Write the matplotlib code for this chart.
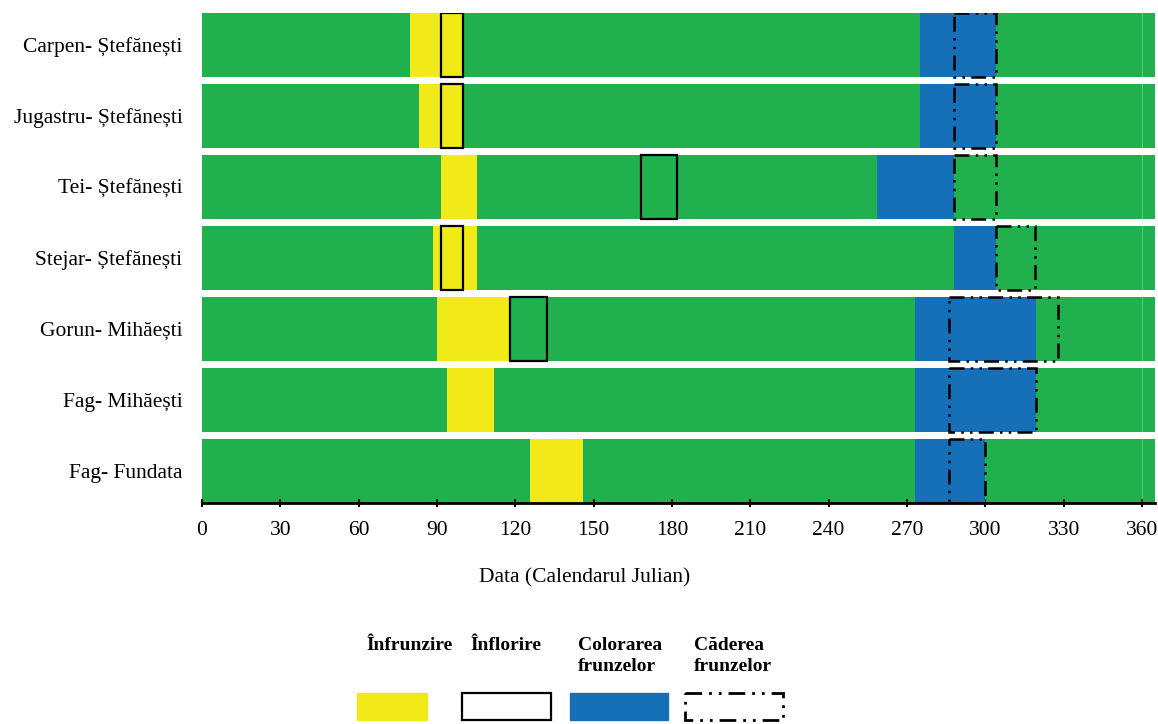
import matplotlib.pyplot as plt
from matplotlib.patches import Rectangle

plt.rcParams['font.family'] = ['Liberation Serif', 'DejaVu Serif']

species = ['Carpen- Ștefănești', 'Jugastru- Ștefănești', 'Tei- Ștefănești',
           'Stejar- Ștefănești', 'Gorun- Mihăești', 'Fag- Mihăești', 'Fag- Fundata']
leaf_start = [79.5, 83, 91.5, 88.5, 90, 94, 125.5]
leaf_end = [100, 100, 105.5, 105.5, 118, 112, 146]
flower_start = [91.5, 91.5, 168, 91.5, 118, None, None]
flower_end = [100, 100, 182, 100, 132, None, None]
color_start = [275, 275, 258.5, 288, 273, 273, 273]
color_end = [304, 304, 288, 304, 319.5, 319.5, 300]
fall_start = [288, 288, 288, 304, 286, 286, 286]
fall_end = [304, 304, 304, 319, 328, 319.5, 300]
year_len = 365

green = '#21b04e'
yellow = '#f2e918'
blue = '#1570b8'
falldash = (0, (6, 2.5, 1, 2.5, 1, 2.5))

W, H = 1158, 724
fig = plt.figure(figsize=(W / 100, H / 100), dpi=100)
ax = fig.add_axes([202 / W, 1 - 503 / H, (1155 - 202) / W, (503 - 13) / H])

y = list(range(len(species)))
h = 0.9
ax.barh(y, year_len, height=h, color=green, zorder=1)
ax.barh(y, [e - s for s, e in zip(leaf_start, leaf_end)], left=leaf_start,
        height=h, color=yellow, zorder=2)
ax.barh(y, [e - s for s, e in zip(color_start, color_end)], left=color_start,
        height=h, color=blue, zorder=2)
for i in y:
    if flower_start[i] is not None:
        ax.barh(i, flower_end[i] - flower_start[i], left=flower_start[i], height=h,
                fill=False, edgecolor='black', linewidth=1.6, zorder=3)
    ax.barh(i, fall_end[i] - fall_start[i], left=fall_start[i], height=h,
            fill=False, edgecolor='black', linewidth=1.8, linestyle=falldash, zorder=4)
ax.axvline(360, color='white', alpha=0.25, lw=0.8, zorder=2.5)

ax.set_xlim(0, year_len)
ax.set_ylim(len(species) - 0.55, -0.45)
ax.set_yticks(y)
ax.set_yticklabels(species, fontsize=15.5)
ax.set_xticks(range(0, 361, 30))
ax.tick_params(axis='y', length=0, pad=14)
ax.tick_params(axis='x', length=6, width=1.5, labelsize=15.5, pad=10, direction='inout')
for s in ['top', 'right', 'left']:
    ax.spines[s].set_visible(False)
ax.spines['bottom'].set_linewidth(2)
ax.set_xlabel('Data (Calendarul Julian)', fontsize=15.5, labelpad=22)
ax.xaxis.set_label_coords((585 - 202) / (1155 - 202), -(578 - 503) / (503 - 13))
ax.xaxis.label.set_va('center')

# legend
lax = fig.add_axes([0, 0, 1, 1])
lax.set_xlim(0, W)
lax.set_ylim(H, 0)
lax.axis('off')
lax.add_patch(Rectangle((357, 693), 70, 27, color=yellow))
lax.add_patch(Rectangle((462, 693), 89, 27, fill=False, edgecolor='black', lw=1.6))
lax.add_patch(Rectangle((570, 693), 98, 27, color=blue))
lax.add_patch(Rectangle((685, 693), 98, 27, fill=False, edgecolor='black', lw=2,
                        linestyle=falldash))
kw = dict(fontsize=14, fontweight='bold', va='center', ha='left', linespacing=1.3)
lax.text(366, 645, 'Înfrunzire', **kw)
lax.text(470, 645, 'Înflorire', **kw)
lax.text(578, 656, 'Colorarea\nfrunzelor', **kw)
lax.text(694, 656, 'Căderea\nfrunzelor', **kw)

fig.savefig('out.png', dpi=100)
